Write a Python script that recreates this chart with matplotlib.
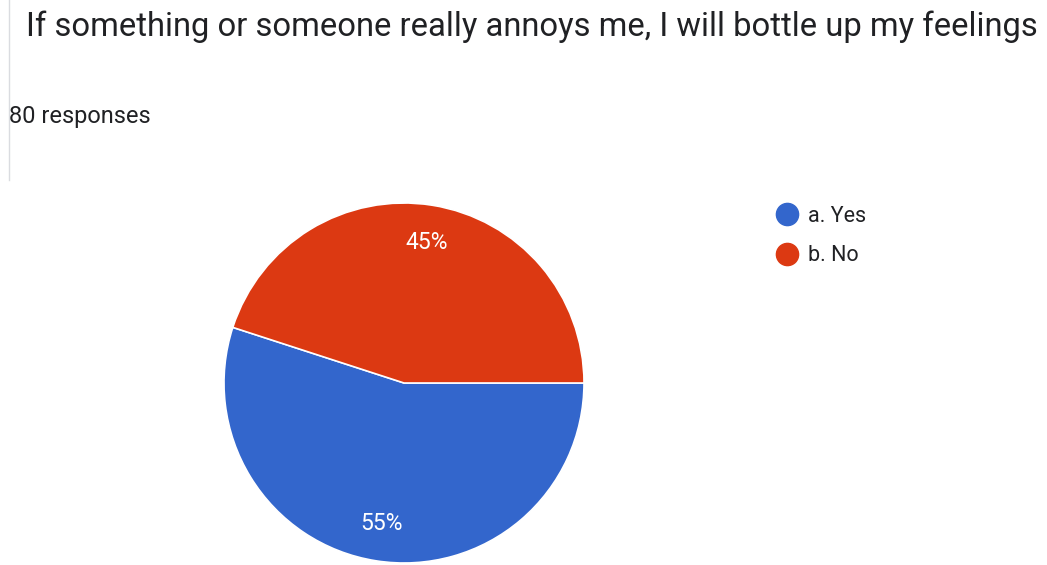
import matplotlib as mpl
mpl.use('Agg')
import matplotlib.pyplot as plt
from matplotlib.lines import Line2D

plt.rcParams['font.family'] = ['Roboto', 'DejaVu Sans']

# survey answers
question = "If something or someone really annoys me, I will bottle up my feelings"
n_responses = 80
answers = ['a. Yes', 'b. No']
shares = [55, 45]
colours = ['#3366CC', '#DC3912']

W, H = 1047, 565
fig = plt.figure(figsize=(W / 100, H / 100), dpi=100)
fig.patch.set_facecolor('white')

# header texts
fig.text(26 / W, 1 - 27 / H, question, fontsize=23.6, color='#202124', va='center', ha='left')
fig.text(9 / W, 1 - 116 / H, '%d responses' % n_responses, fontsize=17, color='#202124', va='center', ha='left')
# thin divider on the left side
fig.add_artist(Line2D([9 / W, 9 / W], [1 - 180 / H, 1.0], color='#dadce0', lw=1))

# pie, 180 px radius around (404, 383)
cx, cy, r = 404, 383, 180
ax = fig.add_axes([(cx - r) / W, 1 - (cy + r) / H, 2 * r / W, 2 * r / H])
wedges, _, autotexts = ax.pie(shares, colors=colours, startangle=0, counterclock=False,
                              autopct='%d%%', pctdistance=0.79,
                              wedgeprops=dict(edgecolor='white', linewidth=1.2),
                              textprops=dict(color='white', fontsize=16.5))
ax.set_xlim(-1, 1)
ax.set_ylim(-1, 1)
ax.axis('off')

handles = [Line2D([], [], marker='o', linestyle='', markersize=16, color=c) for c in colours]
fig.legend(handles, answers, loc='upper left', bbox_to_anchor=(767.5 / W, 1 - 197 / H),
           frameon=False, fontsize=15.5, handlelength=1.0, handletextpad=0.5,
           labelspacing=0.86, labelcolor='#202124', borderaxespad=0)

fig.savefig('out.png', dpi=100)
